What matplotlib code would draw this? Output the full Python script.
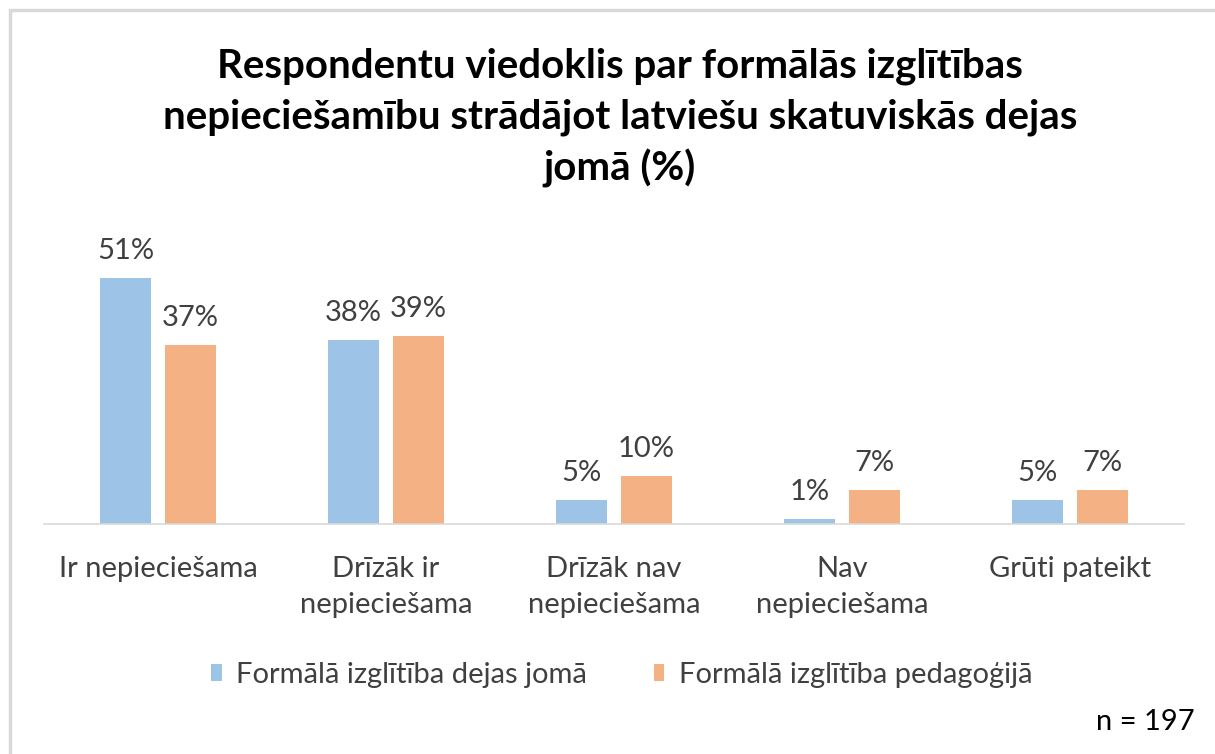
import matplotlib
matplotlib.use("Agg")
import matplotlib.pyplot as plt
import numpy as np
from matplotlib.patches import Rectangle

categories = ["Ir nepieciešama", "Drīzāk ir\nnepieciešama", "Drīzāk nav\nnepieciešama", "Nav\nnepieciešama", "Grūti pateikt"]
series_names = ["Formālā izglītība dejas jomā", "Formālā izglītība pedagoģijā"]
dejas = [51, 38, 5, 1, 5]
pedagogija = [37, 39, 10, 7, 7]
colors = ["#9DC3E6", "#F4B183"]
title = "Respondentu viedoklis par formālās izglītības\nnepieciešamību strādājot latviešu skatuviskās dejas\njomā (%)"

plt.rcParams['font.family'] = ['Lato', 'DejaVu Sans']

W, H = 1215, 754
fig = plt.figure(figsize=(W / 100, H / 100), dpi=100)
fig.patch.set_facecolor("white")

# outer frame
fig.add_artist(Rectangle((10 / W, -0.1), 1.2, (H - 10) / H + 0.1, transform=fig.transFigure,
                         fill=False, edgecolor="#D9D9D9", linewidth=2.5))

ax = fig.add_axes([44 / W, 230 / H, 1140 / W, 290 / H])
x = np.arange(len(categories))
w = 0.22
off = 0.1425
b1 = ax.bar(x - off, dejas, w, color=colors[0], label=series_names[0])
b2 = ax.bar(x + off, pedagogija, w, color=colors[1], label=series_names[1])
for bars, vals in ((b1, dejas), (b2, pedagogija)):
    for r, v in zip(bars, vals):
        ax.annotate(f"{v}%", (r.get_x() + r.get_width() / 2, v), xytext=(0, 10),
                    textcoords="offset points", ha="center", va="bottom",
                    fontsize=21, color="#404040")

ax.set_xlim(-0.5, len(categories) - 0.5)
ax.set_ylim(0, 60)
ax.set_yticks([])
ax.set_xticks(x)
ax.set_xticklabels(categories, fontsize=21, color="#404040", linespacing=1.5)
ax.tick_params(axis="x", length=0, pad=23)
for s in ("top", "right", "left"):
    ax.spines[s].set_visible(False)
ax.spines["bottom"].set_color("#D9D9D9")
ax.spines["bottom"].set_linewidth(1.2)
ax.set_facecolor("white")

fig.text(620 / W, 1 - 118 / H, title, ha="center", va="center", fontsize=29,
         fontweight="bold", color="black", linespacing=1.42)

leg = fig.legend(handles=[b1, b2], loc="center", bbox_to_anchor=(622 / W, 1 - 675 / H),
                 ncol=2, frameon=False, fontsize=21, handlelength=0.35, handleheight=0.55,
                 handletextpad=0.5, columnspacing=2.3, labelcolor="#404040")

fig.text(1195 / W, 1 - 722 / H, "n = 197", ha="right", va="center", fontsize=21, color="black")

fig.savefig("out.png", dpi=100, facecolor="white")
